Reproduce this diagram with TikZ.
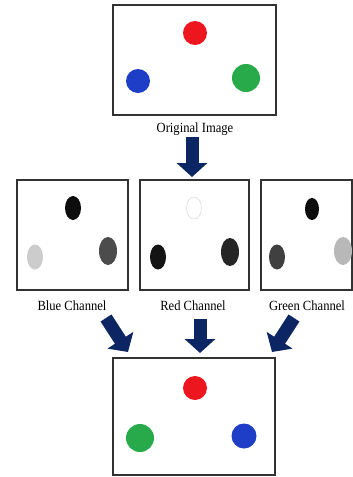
\documentclass[tikz,border=0pt]{standalone}
\usepackage{fontspec}
\setmainfont{Liberation Serif}
\usetikzlibrary{arrows.meta}
\definecolor{navy}{RGB}{12,38,100}
\definecolor{framegray}{RGB}{50,50,50}
\definecolor{dotred}{RGB}{238,22,30}
\definecolor{dotblue}{RGB}{30,62,200}
\definecolor{dotgreen}{RGB}{40,170,75}
\begin{document}
\begin{tikzpicture}[x=1pt,y=-1pt,
  frame/.style={draw=framegray, line width=2pt, fill=white, inner sep=0pt},
  lbl/.style={font=\fontsize{14}{16}\selectfont, inner sep=0pt, xscale=0.9},
  bigarrow/.style={draw=navy, line width=13pt, -{Triangle[width=30pt,length=14pt]}}]
\useasboundingbox (0,0) rectangle (353,477);
% boxes
\node[frame, minimum width=163pt, minimum height=110pt] (orig) at (194,60) {};
\node[frame, minimum width=111pt, minimum height=110pt] (bluech) at (72.5,235) {};
\node[frame, minimum width=109pt, minimum height=110pt] (redch) at (194.5,235) {};
\node[frame, minimum width=91pt, minimum height=110pt] (greench) at (306,235) {};
\node[frame, minimum width=162pt, minimum height=117pt] (result) at (194,416.5) {};
% labels
\node[lbl] (origlbl) at (195,129) {Original Image};
\node[lbl] (bluelbl) at (72,306) {Blue Channel};
\node[lbl] (redlbl) at (193,306) {Red Channel};
\node[lbl] (greenlbl) at (307,306) {Green Channel};
% original dots
\fill[dotred] (195,33) circle[radius=12];
\fill[dotblue] (138,81) circle[radius=12];
\fill[dotgreen] (246,78) circle[radius=14];
% blue channel
\fill[black!95] (73,208) ellipse[x radius=8, y radius=12];
\fill[black!20] (35,257) ellipse[x radius=8, y radius=12.5];
\fill[black!70] (108,251) ellipse[x radius=9, y radius=14];
% red channel
\draw[black!10, line width=0.8pt] (194,208) ellipse[x radius=7.5, y radius=11];
\fill[black!92] (158,257) ellipse[x radius=8, y radius=12.5];
\fill[black!85] (230,252) ellipse[x radius=9, y radius=14];
% green channel
\fill[black!95] (312,209) ellipse[x radius=7, y radius=11];
\fill[black!75] (277,257) ellipse[x radius=8, y radius=12.5];
\fill[black!28] (343,251) ellipse[x radius=9, y radius=14];
% result dots
\fill[dotred] (195,388) circle[radius=12];
\fill[dotgreen] (140,438) circle[radius=14];
\fill[dotblue] (244,436) circle[radius=12.5];
% arrows
\coordinate (a1s) at (192,137);
\coordinate (a1e) at (192,177);
\coordinate (a2s) at (106,318);
\coordinate (a2e) at (128,352);
\coordinate (a3s) at (200,319);
\coordinate (a3e) at (200,353);
\coordinate (a4s) at (294,318);
\coordinate (a4e) at (272,352);
\draw[bigarrow] (a1s) -- (a1e);
\draw[bigarrow] (a2s) -- (a2e);
\draw[bigarrow] (a3s) -- (a3e);
\draw[bigarrow] (a4s) -- (a4e);
\end{tikzpicture}
\end{document}
